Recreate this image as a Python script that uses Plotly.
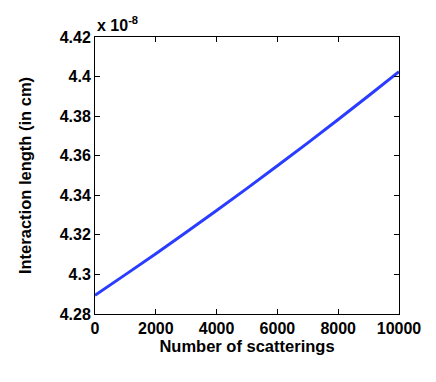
import plotly.graph_objects as go

scatterings = [0, 1000, 2000, 3000, 4000, 5000, 6000, 7000, 8000, 9000, 10000]
length_e8 = [4.2895, 4.2999, 4.3105, 4.3213, 4.3323, 4.3435, 4.3549, 4.3665, 4.3783, 4.3903, 4.4025]
x_ticks = [0, 2000, 4000, 6000, 8000, 10000]
y_ticks = [4.28, 4.3, 4.32, 4.34, 4.36, 4.38, 4.4, 4.42]
y_ticklabels = ["4.28", "4.3", "4.32", "4.34", "4.36", "4.38", "4.4", "4.42"]

FONT = "Liberation Sans, Arial, Helvetica, sans-serif"

fig = go.Figure()
fig.add_trace(go.Scatter(x=scatterings, y=length_e8, mode="lines",
                         line=dict(color="#2a3cff", width=3, shape="spline"),
                         showlegend=False))

axis_common = dict(showgrid=False, zeroline=False, showline=True, linecolor="black",
                   linewidth=1, mirror="ticks", ticks="inside", ticklen=5, tickcolor="black",
                   tickfont=dict(family=FONT, size=16, color="black", weight="bold"))

fig.update_xaxes(range=[0, 10000], tickvals=x_ticks, ticktext=[str(v) for v in x_ticks],
                 title=dict(text="Number of scatterings", font=dict(family=FONT, size=16.5, color="black", weight="bold"), standoff=2),
                 **axis_common)
fig.update_yaxes(range=[4.28, 4.42], tickvals=y_ticks, ticktext=y_ticklabels,
                 title=dict(text="Interaction length (in cm)", font=dict(family=FONT, size=16.5, color="black", weight="bold"), standoff=23),
                 **axis_common)

fig.add_annotation(xref="paper", yref="paper", x=0, y=1.0, xanchor="left", yanchor="bottom",
                   text="x 10<sup>-8</sup>", showarrow=False, yshift=1,
                   font=dict(family=FONT, size=16, color="black", weight="bold"))

fig.update_layout(width=428, height=374, margin=dict(l=87, r=37, t=29, b=68),
                  plot_bgcolor="white", paper_bgcolor="white")

fig.write_html("out.html")
